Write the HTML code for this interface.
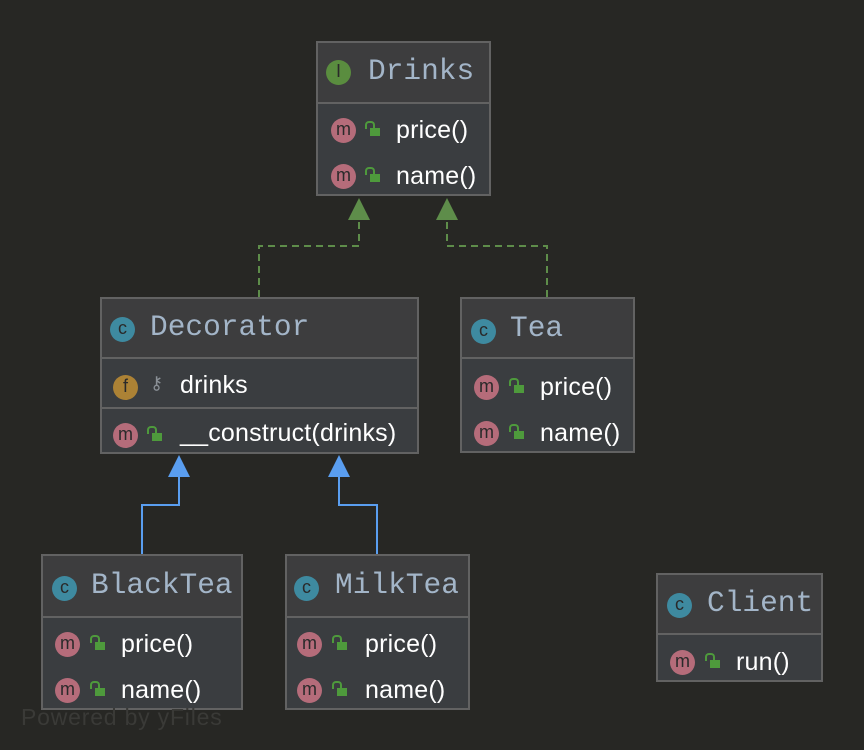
<!DOCTYPE html><html><head><style>
body{margin:0;width:864px;height:750px;background:#272724;overflow:hidden;position:relative;font-family:"Liberation Sans",sans-serif}
.b{position:absolute;border:2px solid #626262;background:#3a3d40;box-sizing:border-box}
.h{position:absolute;left:0;right:0;top:0;background:#3d3d3e;border-bottom:2px solid #626262;box-sizing:border-box}
.t{position:absolute;font-family:"Liberation Mono",monospace;font-size:29.5px;color:#a3b5c8;white-space:nowrap}
.r{position:absolute;font-size:25px;color:#fff;white-space:nowrap;letter-spacing:0.2px}
.ic{position:absolute;width:25px;height:25px;border-radius:50%;font-size:18px;text-align:center;line-height:23px;color:#2a2a2a;font-family:"Liberation Sans",sans-serif}
.m{background:#b56c7a}.c{background:#3e8aa0}.i{background:#5a8d3f}.f{background:#ac8235}
.lk{position:absolute;width:10px;height:8px;background:#4e9a3c}
.lk:before{content:"";position:absolute;left:-5px;top:-7px;width:6px;height:6px;border:2px solid #4e9a3c;border-bottom:none;border-radius:4px 4px 0 0}
</style></head><body>
<svg width="864" height="750" style="position:absolute;left:0;top:0">
<g stroke="#5e8d4a" stroke-width="2" fill="none" stroke-dasharray="7,5">
<polyline points="259,297 259,246 359,246 359,220"/>
<polyline points="547,297 547,246 447,246 447,220"/>
</g>
<polygon points="359,198 348,220 370,220" fill="#5e8d4a"/>
<polygon points="447,198 436,220 458,220" fill="#5e8d4a"/>
<g stroke="#5a9ef0" stroke-width="2" fill="none">
<polyline points="142,554 142,505 179,505 179,477"/>
<polyline points="377,554 377,505 339,505 339,477"/>
</g>
<polygon points="179,455 168,477 190,477" fill="#5a9ef0"/>
<polygon points="339,455 328,477 350,477" fill="#5a9ef0"/>
</svg>

<div class="b" style="left:316px;top:41px;width:175px;height:155px"><div class="h" style="height:61px"></div>
<div class="ic i" style="left:8px;top:17px">I</div><div class="t" style="left:50px;top:11px">Drinks</div>
<div class="ic m" style="left:13px;top:75px">m</div><div class="lk" style="left:52px;top:85px"></div><div class="r" style="left:78px;top:73px">price()</div>
<div class="ic m" style="left:13px;top:121px">m</div><div class="lk" style="left:52px;top:131px"></div><div class="r" style="left:78px;top:119px">name()</div></div>

<div class="b" style="left:100px;top:297px;width:319px;height:157px"><div class="h" style="height:60px"></div>
<div class="ic c" style="left:8px;top:18px">c</div><div class="t" style="left:48px;top:11px">Decorator</div>
<div style="position:absolute;left:0;right:0;top:108px;border-top:2px solid #626262"></div>
<div class="ic f" style="left:11px;top:76px">f</div><div class="r" style="left:48px;top:74px;color:#8a9096;font-size:18px">⚷</div><div class="r" style="left:78px;top:72px">drinks</div>
<div class="ic m" style="left:11px;top:124px">m</div><div class="lk" style="left:50px;top:134px"></div><div class="r" style="left:78px;top:120px">__construct(drinks)</div></div>

<div class="b" style="left:460px;top:297px;width:175px;height:156px"><div class="h" style="height:60px"></div>
<div class="ic c" style="left:9px;top:20px">c</div><div class="t" style="left:48px;top:12px">Tea</div>
<div class="ic m" style="left:12px;top:76px">m</div><div class="lk" style="left:52px;top:86px"></div><div class="r" style="left:78px;top:74px">price()</div>
<div class="ic m" style="left:12px;top:122px">m</div><div class="lk" style="left:52px;top:132px"></div><div class="r" style="left:78px;top:120px">name()</div></div>

<div class="b" style="left:41px;top:554px;width:202px;height:156px"><div class="h" style="height:62px"></div>
<div class="ic c" style="left:9px;top:20px">c</div><div class="t" style="left:48px;top:12px">BlackTea</div>
<div class="ic m" style="left:12px;top:76px">m</div><div class="lk" style="left:52px;top:86px"></div><div class="r" style="left:78px;top:74px">price()</div>
<div class="ic m" style="left:12px;top:122px">m</div><div class="lk" style="left:52px;top:132px"></div><div class="r" style="left:78px;top:120px">name()</div></div>

<div class="b" style="left:285px;top:554px;width:185px;height:156px"><div class="h" style="height:62px"></div>
<div class="ic c" style="left:7px;top:20px">c</div><div class="t" style="left:48px;top:12px">MilkTea</div>
<div class="ic m" style="left:10px;top:76px">m</div><div class="lk" style="left:50px;top:86px"></div><div class="r" style="left:78px;top:74px">price()</div>
<div class="ic m" style="left:10px;top:122px">m</div><div class="lk" style="left:50px;top:132px"></div><div class="r" style="left:78px;top:120px">name()</div></div>

<div class="b" style="left:656px;top:573px;width:167px;height:109px"><div class="h" style="height:60px"></div>
<div class="ic c" style="left:9px;top:18px">c</div><div class="t" style="left:49px;top:11px">Client</div>
<div class="ic m" style="left:12px;top:75px">m</div><div class="lk" style="left:52px;top:85px"></div><div class="r" style="left:78px;top:73px">run()</div></div>

<div style="position:absolute;left:21px;top:704px;font-size:23px;letter-spacing:0.8px;color:#3a3a37">Powered by yFiles</div>
</body></html>
